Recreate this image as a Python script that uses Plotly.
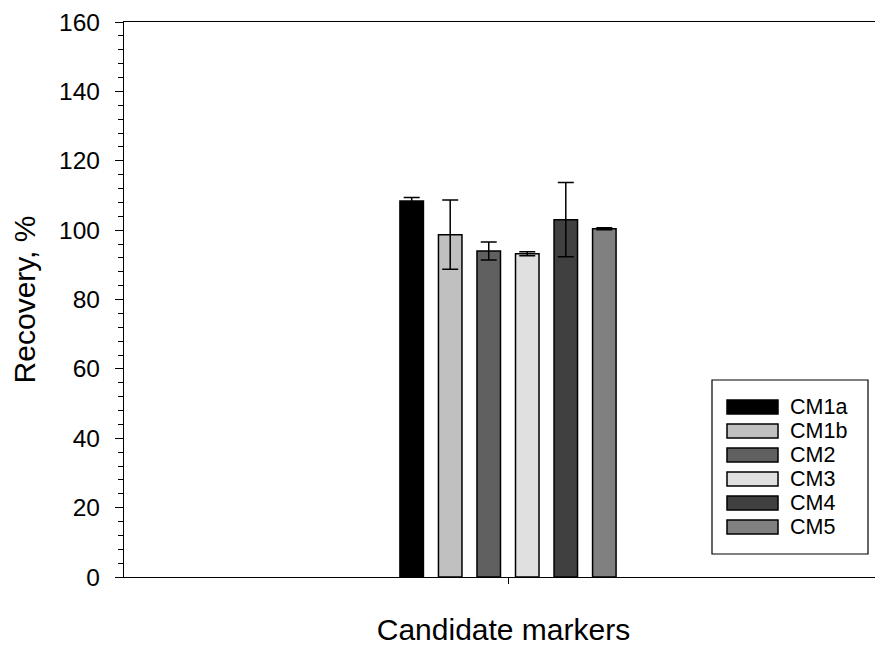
import plotly.graph_objects as go

categories = ["Candidate markers"]
series_names = ["CM1a", "CM1b", "CM2", "CM3", "CM4", "CM5"]
recovery = [108.4, 98.7, 94.0, 93.2, 103.0, 100.4]
error = [1.0, 10.0, 2.6, 0.6, 10.7, 0.3]
colors = ["#000000", "#c0c0c0", "#606060", "#e0e0e0", "#404040", "#808080"]

FONT = "Liberation Sans, Arial, sans-serif"

fig = go.Figure()
for name, val, err, col in zip(series_names, recovery, error, colors):
    fig.add_trace(go.Bar(
        x=categories, y=[val], name=name,
        marker=dict(color=col, line=dict(color="#000000", width=1.5)),
        error_y=dict(type="data", array=[err], visible=True, color="#000000",
                     thickness=1.5, width=8),
        showlegend=False,
    ))

# page offset from default body margin
OFF = 8
# plot area in page pixels
L, R, T, B = 124, 883, 22, 577
W, H = R - L, B - T
px = lambda x: (x - L) / W
py = lambda y: (B - y) / H

shapes = [dict(type="rect", xref="paper", yref="paper",
               x0=px(712), x1=px(868), y0=py(554), y1=py(380),
               line=dict(color="#000000", width=1.2), fillcolor="white", layer="above")]
annotations = []
for i, (name, col) in enumerate(zip(series_names, colors)):
    yc = 407 + 24 * i
    shapes.append(dict(type="rect", xref="paper", yref="paper",
                       x0=px(727), x1=px(778), y0=py(yc + 7), y1=py(yc - 7),
                       line=dict(color="#000000", width=1.5), fillcolor=col, layer="above"))
    annotations.append(dict(xref="paper", yref="paper", x=px(788), y=py(yc),
                            text=name, showarrow=False, xanchor="left", yanchor="middle",
                            font=dict(family=FONT, size=21.5, color="#000000")))

fig.update_layout(
    width=883 - OFF, height=646 - OFF,
    margin=dict(l=L - OFF, r=0, t=T - OFF, b=646 - B),
    paper_bgcolor="white", plot_bgcolor="white",
    barmode="group", bargap=0.699, bargroupgap=0.39,
    font=dict(family=FONT, color="#000000"),
    showlegend=False,
    shapes=shapes, annotations=annotations,
)
fig.update_xaxes(
    type="category",
    range=[-0.5, -0.5 + W / 768],
    showticklabels=False, ticks="outside", ticklen=6, tickwidth=1.2, tickcolor="#000000",
    showline=True, linecolor="#000000", linewidth=1.2, mirror=True,
    showgrid=False, zeroline=False,
    title=dict(text="Candidate markers", font=dict(family=FONT, size=30), standoff=41),
)
fig.update_yaxes(
    range=[0, 160], dtick=20, tick0=0,
    ticks="outside", ticklen=8, tickwidth=1.2, tickcolor="#000000",
    minor=dict(dtick=4, tick0=0, ticks="outside", ticklen=5, tickwidth=1.2, tickcolor="#000000", showgrid=False),
    showline=True, linecolor="#000000", linewidth=1.2,
    showgrid=False, zeroline=False,
    tickfont=dict(family=FONT, size=24.5),
    ticklabelstandoff=10,
    title=dict(text="Recovery, %", font=dict(family=FONT, size=30), standoff=14),
)

fig.write_html("out.html")
